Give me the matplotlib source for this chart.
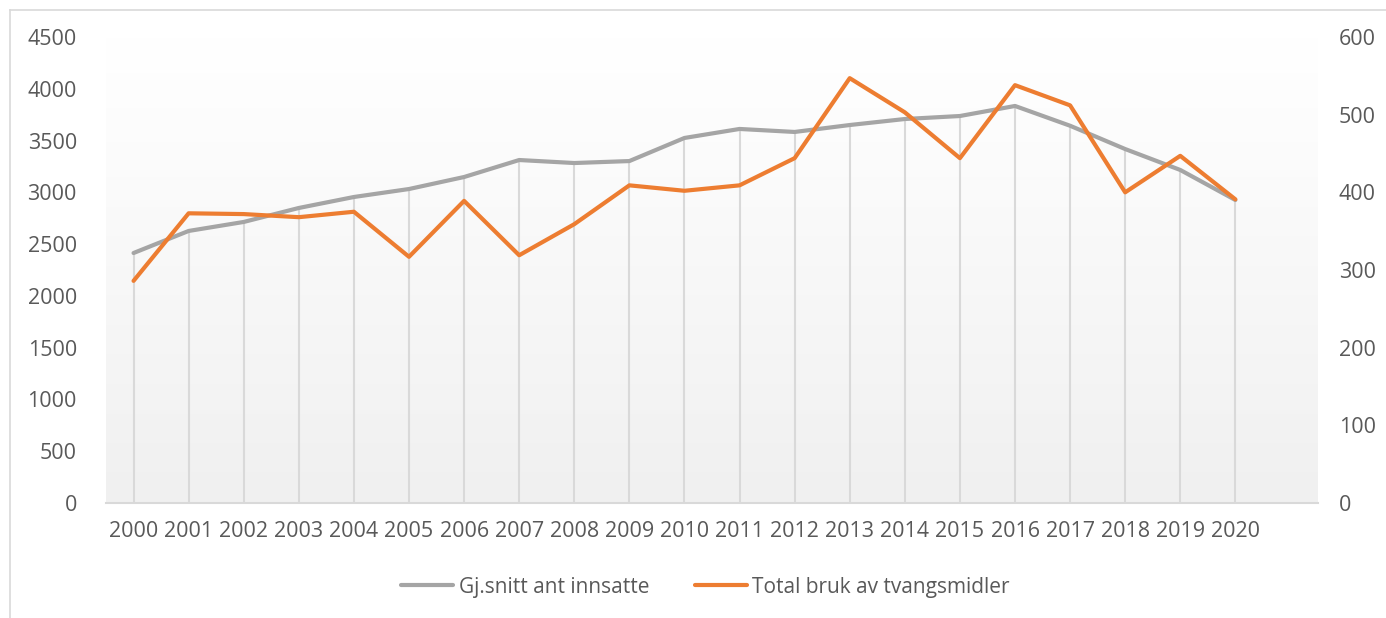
import numpy as np
import matplotlib
matplotlib.use('Agg')
import matplotlib.pyplot as plt
from matplotlib.lines import Line2D
from matplotlib.colors import LinearSegmentedColormap

years = [str(y) for y in range(2000, 2021)]
innsatte = [2414, 2627, 2714, 2849, 2955, 3032, 3148, 3312, 3283, 3302,
            3525, 3612, 3583, 3650, 3708, 3737, 3834, 3643, 3418, 3216, 2926]
tvang = [286, 373, 372, 368, 375, 317, 389, 319, 359, 409,
         402, 409, 444, 547, 503, 444, 538, 512, 400, 447, 391]

plt.rcParams['font.family'] = ['Open Sans', 'DejaVu Sans']
txt = '#595959'
fs = 15.5

fig = plt.figure(figsize=(13.86, 6.18), dpi=100)
ax1 = fig.add_axes([106 / 1386, 1 - 503 / 618, (1318 - 106) / 1386, 466 / 618])
ax2 = ax1.twinx()

x = np.arange(len(years))

# gradient background of the plot area
grad = np.linspace(0, 1, 256).reshape(-1, 1)
cmap = LinearSegmentedColormap.from_list(
    'bg', [(0, '#f0f0f0'), (0.7, '#fbfbfb'), (1.0, '#ffffff')])
ax1.imshow(grad, aspect='auto', cmap=cmap, origin='lower',
           extent=[0, 1, 0, 1], transform=ax1.transAxes, zorder=0)

ax1.vlines(x, 0, innsatte, color='#d9d9d9', lw=1.5, zorder=1)
l1, = ax1.plot(x, innsatte, color='#a5a5a5', lw=3, zorder=2,
               solid_capstyle='round', label='Gj.snitt ant innsatte')
l2, = ax2.plot(x, tvang, color='#ed7d31', lw=3, zorder=3,
               solid_capstyle='round', label='Total bruk av tvangsmidler')

ax1.set_xlim(-0.5, 21.5)
ax1.set_ylim(0, 4500)
ax2.set_ylim(0, 600)
ax1.set_yticks(range(0, 4501, 500))
ax2.set_yticks(range(0, 601, 100))
ax1.set_xticks(x)
ax1.set_xticklabels(years)

for a in (ax1, ax2):
    for s in a.spines.values():
        s.set_visible(False)
    a.tick_params(length=0, labelsize=fs, labelcolor=txt)
    a.set_facecolor('none')
ax1.spines['bottom'].set_visible(True)
ax1.spines['bottom'].set_color('#d9d9d9')
ax1.spines['bottom'].set_linewidth(1.5)
ax1.tick_params(axis='y', pad=21)
ax1.tick_params(axis='x', pad=13)
ax2.tick_params(axis='y', pad=15)

fig.legend([l1, l2], [l1.get_label(), l2.get_label()], loc='center',
           bbox_to_anchor=(0.509, 0.050), ncol=2, frameon=False,
           fontsize=15, labelcolor=txt, handlelength=2.5,
           handletextpad=0.25, columnspacing=2.2)

# chart border
bc = '#d9d9d9'
fig.add_artist(Line2D([10 / 1386, 10 / 1386], [0, 1 - 10 / 618],
                      color=bc, lw=1.2, transform=fig.transFigure))
fig.add_artist(Line2D([10 / 1386, 1], [1 - 10 / 618, 1 - 10 / 618],
                      color=bc, lw=1.2, transform=fig.transFigure))

fig.savefig('out.png', dpi=100)
